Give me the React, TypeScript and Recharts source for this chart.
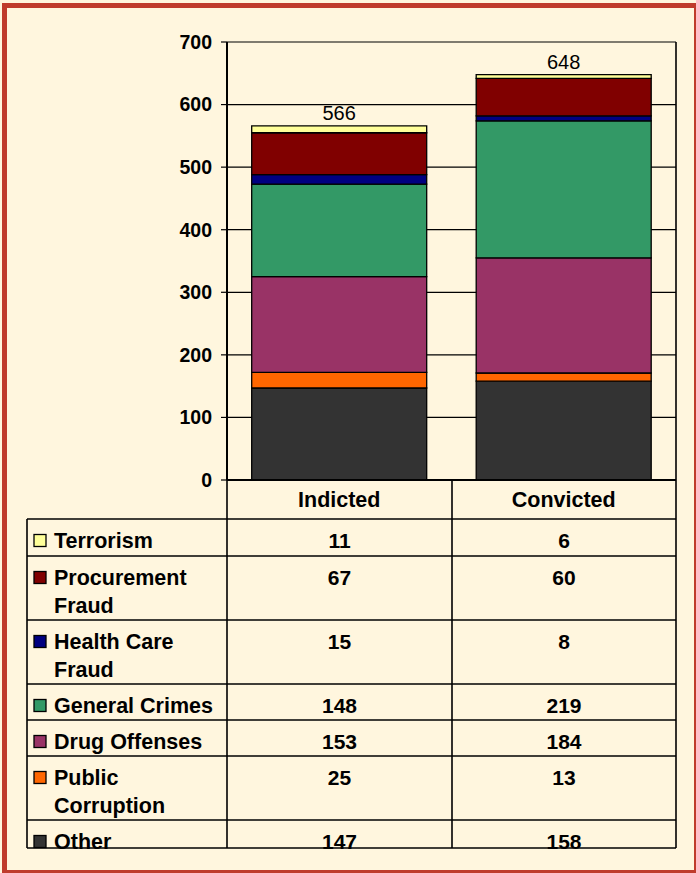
import React from "react";
import { BarChart, Bar, XAxis, YAxis, CartesianGrid, LabelList } from "recharts";

// ---- data ----
const categories = ["Indicted", "Convicted"];
const other = [147, 158];
const publicCorruption = [25, 13];
const drugOffenses = [153, 184];
const generalCrimes = [148, 219];
const healthCareFraud = [15, 8];
const procurementFraud = [67, 60];
const terrorism = [11, 6];
const totals = [566, 648];
const yTicks = [0, 100, 200, 300, 400, 500, 600, 700];

// stacked bottom -> top
const series = [
  { key: "other", lines: ["Other"], values: other, color: "#333333" },
  { key: "publicCorruption", lines: ["Public", "Corruption"], values: publicCorruption, color: "#FF6600" },
  { key: "drugOffenses", lines: ["Drug Offenses"], values: drugOffenses, color: "#993366" },
  { key: "generalCrimes", lines: ["General Crimes"], values: generalCrimes, color: "#339966" },
  { key: "healthCareFraud", lines: ["Health Care", "Fraud"], values: healthCareFraud, color: "#000080" },
  { key: "procurementFraud", lines: ["Procurement", "Fraud"], values: procurementFraud, color: "#800000" },
  { key: "terrorism", lines: ["Terrorism"], values: terrorism, color: "#FFFF99" },
];

const data = categories.map((category, i) => {
  const row: Record<string, any> = { category, total: totals[i] };
  series.forEach((s) => (row[s.key] = s.values[i]));
  return row;
});

// ---- layout ----
const W = 696;
const H = 873;
const BG = "#FFF6DE";
const BORDER = "#BF3B2C";
const FONT = "'Liberation Sans', Arial, Helvetica, sans-serif";
const PLOT_LEFT = 227;
const PLOT_RIGHT = 676;
const PLOT_TOP = 42;
const PLOT_BOTTOM = 480;
const TABLE_LEFT = 27;
const COL_DIV = 452;
const HEADER_BOTTOM = 519;
const ROW_TOPS = [519, 556, 620, 684, 720, 756, 820];
const TABLE_BOTTOM = 848;
const LINE_W = 1.6;

const tableRows = [...series].reverse();

function TableOverlay() {
  const colCenters = [(PLOT_LEFT + COL_DIV) / 2, (COL_DIV + PLOT_RIGHT) / 2];
  return (
    <svg
      width={W}
      height={H}
      style={{ position: "absolute", left: 0, top: 0, pointerEvents: "none" }}
    >
      <rect x={4.5} y={5.5} width={692} height={867} fill="none" stroke={BORDER} strokeWidth={5} />
      {/* vertical lines */}
      <line x1={PLOT_RIGHT} y1={PLOT_TOP} x2={PLOT_RIGHT} y2={TABLE_BOTTOM} stroke="#000" strokeWidth={LINE_W} />
      <line x1={PLOT_LEFT} y1={PLOT_BOTTOM} x2={PLOT_LEFT} y2={TABLE_BOTTOM} stroke="#000" strokeWidth={LINE_W} />
      <line x1={COL_DIV} y1={PLOT_BOTTOM} x2={COL_DIV} y2={TABLE_BOTTOM} stroke="#000" strokeWidth={LINE_W} />
      <line x1={TABLE_LEFT} y1={HEADER_BOTTOM} x2={TABLE_LEFT} y2={TABLE_BOTTOM} stroke="#000" strokeWidth={LINE_W} />
      {/* horizontal lines */}
      {[...ROW_TOPS, TABLE_BOTTOM].map((y, i) => (
        <line key={i} x1={TABLE_LEFT} y1={y} x2={PLOT_RIGHT} y2={y} stroke="#000" strokeWidth={LINE_W} />
      ))}
      {tableRows.map((s, r) => {
        const top = ROW_TOPS[r];
        const cy = top + 21.5;
        return (
          <g key={s.key}>
            <rect x={34} y={cy - 6} width={12} height={12} fill={s.color} stroke="#000" strokeWidth={1.3} />
            {s.lines.map((ln, k) => (
              <text
                key={k}
                x={54}
                y={cy + k * 28.5}
                dominantBaseline="central"
                fontFamily={FONT}
                fontWeight="bold"
                fontSize={21.5}
                fill="#000"
              >
                {ln}
              </text>
            ))}
            {s.values.map((v, c) => (
              <text
                key={c}
                x={colCenters[c]}
                y={cy}
                textAnchor="middle"
                dominantBaseline="central"
                fontFamily={FONT}
                fontWeight="bold"
                fontSize={21}
                fill="#000"
              >
                {v}
              </text>
            ))}
          </g>
        );
      })}
    </svg>
  );
}

export default function App() {
  return (
    <div style={{ position: "absolute", left: 0, top: 0, width: W, height: H, background: BG, overflow: "hidden" }}>
      <BarChart
        width={W}
        height={H}
        data={data}
        margin={{ top: PLOT_TOP, right: W - PLOT_RIGHT, bottom: H - PLOT_BOTTOM - 40, left: 0 }}
        barCategoryGap="11%"
      >
        <CartesianGrid vertical={false} stroke="#000" strokeWidth={1.2} />
        <XAxis
          dataKey="category"
          height={40}
          axisLine={{ stroke: "#000", strokeWidth: 2 }}
          tickLine={false}
          tickSize={0}
          tickMargin={12}
          tick={{ fill: "#000", fontFamily: FONT, fontWeight: "bold", fontSize: 21.5 }}
        />
        <YAxis
          width={PLOT_LEFT}
          domain={[0, 700]}
          ticks={yTicks}
          interval={0}
          axisLine={{ stroke: "#000", strokeWidth: 2 }}
          tickLine={{ stroke: "#000", strokeWidth: 1.2 }}
          tickSize={6}
          tickMargin={9}
          tick={{ fill: "#000", fontFamily: FONT, fontWeight: "bold", fontSize: 19.5 }}
        />
        {series.map((s, idx) => (
          <Bar
            key={s.key}
            dataKey={s.key}
            stackId="a"
            fill={s.color}
            stroke="#000"
            strokeWidth={1.3}
            isAnimationActive={false}
          >
            {idx === series.length - 1 && (
              <LabelList
                dataKey="total"
                position="top"
                offset={6}
                style={{ fill: "#000", fontFamily: FONT, fontSize: 20 }}
              />
            )}
          </Bar>
        ))}
      </BarChart>
      <TableOverlay />
    </div>
  );
}
